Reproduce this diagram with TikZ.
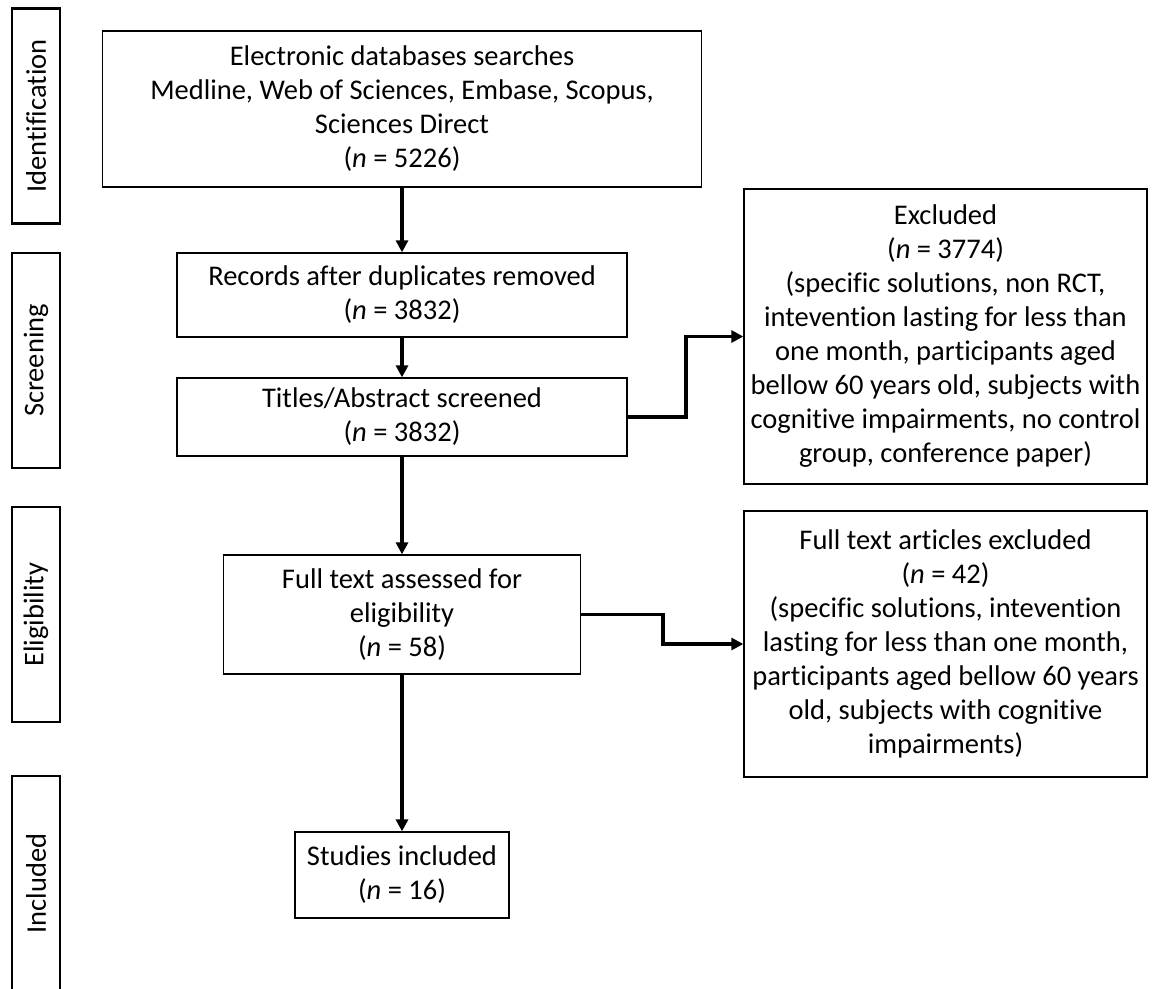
\documentclass[tikz,border=0pt]{standalone}
\usepackage{fontspec}
\setmainfont{Carlito}[Ligatures=NoCommon]
\usetikzlibrary{arrows.meta}

\begin{document}
\begin{tikzpicture}[x=1pt, y=-1pt, thick,
  box/.style={draw, line width=1.3pt, align=center, inner sep=0pt,
    font=\fontsize{28.5}{34}\selectfont},
  stage/.style={draw, line width=2.7pt, rotate=90, inner sep=0pt,
    minimum width=215pt, minimum height=48pt, font=\fontsize{28.5}{34}\selectfont},
  flow/.style={line width=3.8pt, -{Triangle[length=12pt, width=12pt]}}]
  \useasboundingbox (0, 0) rectangle (1155, 988);
  \clip (0, 0) rectangle (1155, 988);

  % stages on the left
  \node[stage] (ident) at (36, 116) {Identification};
  \node[stage] (scr) at (36, 360.5) {Screening};
  \node[stage] (elig) at (36, 614.5) {Eligibility};
  \node[stage] (inc) at (36, 883.5) {Included};

  % main flow
  \node[box, minimum width=599pt, minimum height=156pt] (db) at (402, 109)
    {Electronic databases searches\\Medline, Web of Sciences, Embase, Scopus,\\Sciences Direct\\(\textit{n} = 5226)};
  \node[box, minimum width=450pt, minimum height=84pt] (dup) at (402, 295)
    {Records after duplicates removed\\(\textit{n} = 3832)};
  \node[box, minimum width=450pt, minimum height=78pt] (screen) at (402, 417)
    {Titles/Abstract screened\\(\textit{n} = 3832)};
  \node[box, minimum width=357pt, minimum height=119pt] (full) at (402, 614.5)
    {Full text assessed for\\eligibility\\(\textit{n} = 58)};
  \node[box, minimum width=214pt, minimum height=86pt] (incl) at (402, 875)
    {Studies included\\(\textit{n} = 16)};

  % exclusions
  \node[box, minimum width=403pt, minimum height=295pt] (excl) at (945.5, 336.5)
    {Excluded\\(\textit{n} = 3774)\\(specific solutions, non RCT,\\intevention lasting for less than\\one month, participants aged\\bellow 60 years old, subjects with\\cognitive impairments, no control\\group, conference paper)};
  \node[box, minimum width=403pt, minimum height=266pt] (exfull) at (945.5, 644)
    {Full text articles excluded\\(\textit{n} = 42)\\(specific solutions, intevention\\lasting for less than one month,\\participants aged bellow 60 years\\old, subjects with cognitive\\impairments)};

  \draw[flow] (db.south) -- (dup.north);
  \draw[flow] (dup.south) -- (screen.north);
  \draw[flow] (screen.south) -- (full.north);
  \draw[flow] (full.south) -- (incl.north);
  \draw[flow] (screen.east) -- ++(58, 0) |- (excl.west);
  \draw[flow] (full.east) -- ++(82, 0) |- (exfull.west);
\end{tikzpicture}
\end{document}
